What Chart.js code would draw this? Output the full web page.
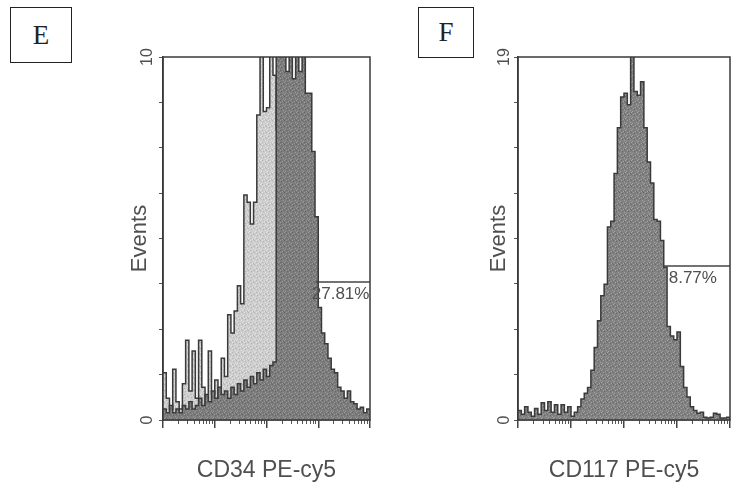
<!DOCTYPE html>
<html>
<head>
<meta charset="utf-8">
<script src="https://cdn.jsdelivr.net/npm/chart.js@4.4.1/dist/chart.umd.min.js"></script>
<style>
  html, body { margin: 0; padding: 0; background: #fff; }
  body { width: 733px; height: 490px; position: relative; overflow: hidden; }
  .panel {
    position: absolute; box-sizing: border-box; border: 1.5px solid #222;
    font-family: "Liberation Serif", serif; font-size: 27px; color: #222;
    display: flex; align-items: center; justify-content: center;
  }
  #boxE { left: 10px; top: 7px; width: 62px; height: 56px; }
  #boxF { left: 418px; top: 7px; width: 56px; height: 51px; }
  .wrap { position: absolute; }
  #wrapE { left: 105px; top: 30px; width: 280px; height: 460px; }
  #wrapF { left: 470px; top: 30px; width: 263px; height: 460px; }
</style>
</head>
<body>
<div class="panel" id="boxE">E</div>
<div class="panel" id="boxF">F</div>
<div class="wrap" id="wrapE"><canvas id="chartE"></canvas></div>
<div class="wrap" id="wrapF"><canvas id="chartF"></canvas></div>

<script>
// ====== DATA ======
// histogram bins (channel start, 0-256 = 4 log decades)
const channels = [0, 4, 8, 12, 16, 20, 24, 28, 32, 36, 40, 44, 48, 52, 56, 60,
  64, 68, 72, 76, 80, 84, 88, 92, 96, 100, 104, 108, 112, 116, 120, 124,
  128, 132, 136, 140, 144, 148, 152, 156, 160, 164, 168, 172, 176, 180, 184, 188,
  192, 196, 200, 204, 208, 212, 216, 220, 224, 228, 232, 236, 240, 244, 248, 252];

// E: CD34 PE-cy5 (light = control, dark = stained)
const cd34Light = [1.3, 0.6, 0.3, 1.4, 0.5, 0.3, 1.0, 2.2, 0.8, 1.9,
  0.6, 2.2, 0.9, 0.4, 1.9, 0.7, 1.1, 0.5, 1.7, 1.2,
  2.9, 2.4, 3.0, 3.7, 3.2, 6.2, 6.0, 5.4, 6.0, 8.4,
  12, 8.5, 8.6, 12, 9.5, 8.0, 7.0, 5.0, 3.0, 2.0,
  1.2, 0.8, 0.5, 0.4, 0.3, 0.3, 0.3, 0.3, 0.3, 0.3,
  0.3, 0.3, 0.3, 0.2, 0.2, 0.2, 0.2, 0.2, 0.2, 0.2,
  0.1, 0.1, 0.1, 0.1];
const cd34Dark = [0.3, 0.2, 0.4, 0.2, 0.3, 0.2, 0.4, 0.3, 0.5, 0.3,
  0.4, 0.6, 0.4, 0.7, 0.5, 0.8, 0.6, 0.9, 0.7, 0.8,
  0.6, 0.9, 0.7, 1.0, 0.8, 1.1, 0.9, 1.2, 1.0, 1.3,
  1.1, 1.4, 1.2, 1.5, 1.6, 11, 10.5, 12, 9.6, 12,
  9.4, 12, 9.6, 11, 9.0, 9.0, 7.4, 5.6, 3.1, 2.4,
  2.1, 1.7, 1.4, 1.3, 0.9, 0.8, 0.6, 0.8, 0.5, 0.45,
  0.3, 0.35, 0.2, 0.3];

// F: CD117 PE-cy5
const cd117 = [0.5, 0.3, 0.7, 0.4, 0.2, 0.6, 0.3, 0.9, 0.5, 0.95,
  0.4, 0.8, 0.3, 0.8, 0.4, 0.7, 0.2, 0.4, 0.7, 1.1,
  1.4, 1.7, 2.6, 3.8, 5.2, 6.5, 7.1, 10.1, 10.4, 12.9,
  15.3, 16.9, 17.1, 16.5, 20, 17.2, 17.0, 17.7, 15.3, 13.5,
  12.4, 10.5, 10.4, 9.4, 8.0, 4.9, 4.4, 4.2, 4.6, 2.8,
  1.7, 1.2, 0.7, 0.5, 0.35, 0.4, 0.15, 0.1, 0.15, 0.35,
  0.3, 0.1, 0.1, 0.15];

// marker gates: [start channel, end channel], level in events
const gateE = [189, 256];
const gateLevelE = 3.8;
const gateF = [175, 256];
const gateLevelF = 8.06;
const gateTextE = "27.81%";
const gateTextF = "8.77%";
const gateTextPosE = [184, 3.47];
const gateTextPosF = [182, 7.43];

// log axis tick marks
const decades = [1, 10, 100, 1000, 10000];
const minorTicks = [2, 3, 4, 5, 6, 7, 8, 9, 20, 30, 40, 50, 60, 70, 80, 90,
  200, 300, 400, 500, 600, 700, 800, 900, 2000, 3000, 4000, 5000, 6000, 7000, 8000, 9000];

// ====== HELPERS ======
const TEXT = "#4f4f4f";
const LINE = "#3a3a3a";
const SANS = '"Liberation Sans", Arial, sans-serif';

function toSteps(values) {
  const pts = values.map((v, i) => ({ x: channels[i], y: v }));
  pts.push({ x: 256, y: values[values.length - 1] });
  return pts;
}

function speckle(base, light, dark) {
  const c = document.createElement("canvas");
  c.width = 6; c.height = 6;
  const g = c.getContext("2d");
  g.fillStyle = base; g.fillRect(0, 0, 6, 6);
  g.fillStyle = light;
  [[1, 0], [4, 2], [0, 3], [3, 5], [5, 4]].forEach(([x, y]) => g.fillRect(x, y, 1, 1));
  g.fillStyle = dark;
  [[2, 1], [5, 0], [1, 4], [4, 5]].forEach(([x, y]) => g.fillRect(x, y, 1, 1));
  return g.createPattern(c, "repeat");
}

const framePlugin = {
  id: "frame",
  afterDatasetsDraw(chart, args, opts) {
    const { ctx, chartArea: a, scales } = chart;
    ctx.save();
    ctx.strokeStyle = LINE;
    ctx.lineWidth = 1.5;
    ctx.strokeRect(a.left, a.top, a.right - a.left, a.bottom - a.top);
    ctx.fillStyle = TEXT;
    ctx.font = "17px " + SANS;
    ctx.textBaseline = "middle";
    ctx.fillText(opts.text, scales.x.getPixelForValue(opts.pos[0]), scales.y.getPixelForValue(opts.pos[1]));
    ctx.restore();
  },
};

function makeChart(id, cfg) {
  const datasets = [{
    data: [{ x: cfg.gate[0], y: cfg.gateLevel }, { x: cfg.gate[1], y: cfg.gateLevel }],
    borderColor: "#444", borderWidth: 1.5, pointRadius: 0, fill: false, order: 0,
  }];
  cfg.series.forEach((s, k) => {
    datasets.push({
      data: toSteps(s.values),
      stepped: true,
      borderColor: LINE,
      borderWidth: 1.5,
      backgroundColor: s.fill,
      fill: "origin",
      pointRadius: 0,
      order: k + 1,
    });
  });

  return new Chart(document.getElementById(id), {
    type: "line",
    data: { datasets },
    plugins: [framePlugin],
    options: {
      responsive: true,
      maintainAspectRatio: false,
      animation: false,
      events: [],
      layout: { padding: { top: 27, right: cfg.padRight, bottom: 0, left: 0 } },
      plugins: {
        legend: { display: false },
        tooltip: { enabled: false },
        frame: { text: cfg.gateText, pos: cfg.gateTextPos },
      },
      scales: {
        x: { type: "linear", display: false, min: 0, max: 256 },
        xMinor: {
          axis: "x", type: "logarithmic", position: "bottom", weight: 0,
          min: 1, max: 10000,
          afterBuildTicks: (s) => { s.ticks = minorTicks.map((v) => ({ value: v })); },
          afterFit: (s) => { s.height = 0; },
          ticks: { display: false },
          grid: { drawOnChartArea: false, tickLength: 4, color: "#555", lineWidth: 1 },
          border: { display: false },
        },
        xMajor: {
          axis: "x", type: "logarithmic", position: "bottom", weight: 1,
          min: 1, max: 10000,
          afterBuildTicks: (s) => { s.ticks = decades.map((v) => ({ value: v, major: true })); },
          afterFit: (s) => { s.height = 70; },
          ticks: { display: false },
          grid: { drawOnChartArea: false, tickLength: 8, color: "#444", lineWidth: 1.5 },
          border: { display: true, color: LINE, width: 1.5 },
          title: {
            display: true, text: cfg.xTitle, color: TEXT,
            font: { family: SANS, size: 23 }, padding: { top: 0, bottom: 6 },
          },
        },
        y: {
          min: 0, max: cfg.yMax,
          afterFit: (s) => { s.width = cfg.yWidth; },
          ticks: {
            stepSize: cfg.yMax / 8,
            minRotation: 90, maxRotation: 90,
            crossAlign: "center",
            padding: cfg.tickPad,
            color: TEXT,
            font: { family: SANS, size: 16 },
            callback: (v, i, t) => (i === 0 || i === t.length - 1 ? String(v) : ""),
          },
          grid: { drawOnChartArea: false, tickLength: 4, color: "#555" },
          border: { display: true, color: LINE, width: 1.5 },
          title: {
            display: true, text: "Events", color: TEXT,
            font: { family: SANS, size: 22 }, padding: { top: cfg.titlePad, bottom: 0 },
          },
        },
      },
    },
  });
}

// ====== CHARTS ======
makeChart("chartE", {
  series: [
    { values: cd34Dark, fill: speckle("#7c7c7c", "#9a9a9a", "#666666") },
    { values: cd34Light, fill: speckle("#cdcdcd", "#e4e4e4", "#b4b4b4") },
  ],
  gate: gateE, gateLevel: gateLevelE, gateText: gateTextE, gateTextPos: gateTextPosE,
  xTitle: "CD34 PE-cy5", yMax: 10,
  yWidth: 58, titlePad: 22, tickPad: 3, padRight: 15,
});

makeChart("chartF", {
  series: [
    { values: cd117, fill: speckle("#828282", "#a2a2a2", "#6a6a6a") },
  ],
  gate: gateF, gateLevel: gateLevelF, gateText: gateTextF, gateTextPos: gateTextPosF,
  xTitle: "CD117 PE-cy5", yMax: 19,
  yWidth: 48, titlePad: 16, tickPad: 1, padRight: 3,
});
</script>
</body>
</html>
